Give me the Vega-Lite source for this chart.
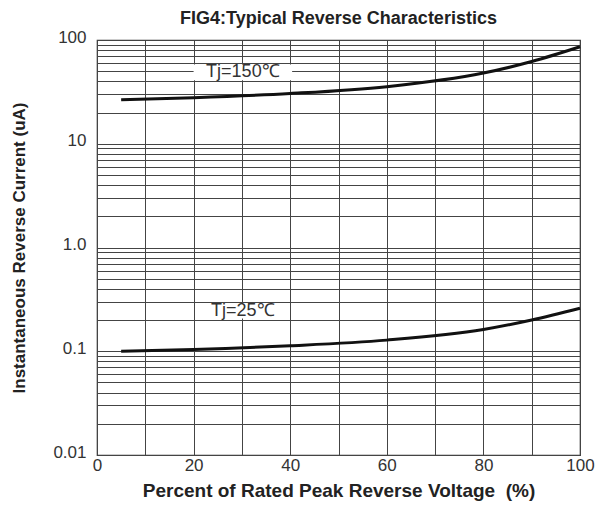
{
  "$schema": "https://vega.github.io/schema/vega-lite/v6.json",
  "width": 483,
  "height": 415,
  "autosize": "none",
  "padding": {"left": 97, "top": 40, "right": 30, "bottom": 53},
  "background": "white",
  "title": {"text": "FIG4:Typical Reverse Characteristics", "font": "Liberation Sans", "fontSize": 18, "fontWeight": "bold", "color": "#222", "offset": 0, "anchor": "middle"},
  "config": {"view": {"stroke": "#333", "strokeWidth": 1.2}},
  "datasets": {
    "curves": [
      {"v": 5, "i": 26.5, "s": "150"},
      {"v": 20, "i": 27.8, "s": "150"},
      {"v": 40, "i": 30.5, "s": "150"},
      {"v": 60, "i": 35.5, "s": "150"},
      {"v": 80, "i": 48, "s": "150"},
      {"v": 90, "i": 62, "s": "150"},
      {"v": 100, "i": 86, "s": "150"},
      {"v": 5, "i": 0.1, "s": "25"},
      {"v": 20, "i": 0.104, "s": "25"},
      {"v": 40, "i": 0.113, "s": "25"},
      {"v": 60, "i": 0.128, "s": "25"},
      {"v": 80, "i": 0.162, "s": "25"},
      {"v": 90, "i": 0.2, "s": "25"},
      {"v": 100, "i": 0.26, "s": "25"}
    ],
    "labels": [
      {"x": 30.2, "y": 49, "x1": 20.0, "x2": 40.4, "y1": 41, "y2": 58, "t": "Tj=150℃"},
      {"x": 30.2, "y": 0.243, "x1": 21.0, "x2": 39.4, "y1": 0.207, "y2": 0.285, "t": "Tj=25℃"}
    ]
  },
  "layer": [
    {
      "data": {"name": "labels"},
      "mark": {"type": "rect", "fill": "white", "stroke": null},
      "encoding": {
        "x": {"field": "x1", "type": "quantitative", "scale": {"domain": [0, 100]},
          "axis": {"values": [0,10,20,30,40,50,60,70,80,90,100], "labelExpr": "datum.value % 20 == 0 ? datum.label : ''", "grid": true, "gridColor": "#444", "gridOpacity": 1, "gridWidth": 1, "ticks": false, "domain": false, "labelFont": "Liberation Sans", "labelFontSize": 17, "labelColor": "#333", "labelPadding": 2, "title": "Percent of Rated Peak Reverse Voltage\u00a0\u00a0(%)", "titleFont": "Liberation Sans", "titleFontSize": 19, "titleFontWeight": "bold", "titleColor": "#222", "titlePadding": 8, "labelOverlap": false, "labelFlush": false}},
        "x2": {"field": "x2"},
        "y": {"field": "y1", "type": "quantitative", "scale": {"type": "log", "domain": [0.01, 100]},
          "axis": {"values": [0.01,0.02,0.03,0.04,0.05,0.06,0.07,0.08,0.09,0.1,0.2,0.3,0.4,0.5,0.6,0.7,0.8,0.9,1,2,3,4,5,6,7,8,9,10,20,30,40,50,60,70,80,90,100],
            "labelExpr": "datum.value == 100 ? '100' : datum.value == 10 ? '10' : datum.value == 1 ? '1.0' : abs(datum.value - 0.1) < 1e-9 ? '0.1' : abs(datum.value - 0.01) < 1e-9 ? '0.01' : ''",
            "grid": true, "gridColor": "#444", "gridOpacity": 1, "gridWidth": 1, "ticks": false, "domain": false, "labelFont": "Liberation Sans", "labelFontSize": 17, "labelColor": "#333", "labelPadding": 11, "labelOffset": -3, "labelOverlap": false, "labelFlush": false, "title": "Instantaneous Reverse Current (uA)", "titleFont": "Liberation Sans", "titleFontSize": 17, "titleFontWeight": "bold", "titleColor": "#222", "titlePadding": 24}},
        "y2": {"field": "y2"}
      }
    },
    {
      "data": {"name": "labels"},
      "mark": {"type": "text", "font": "Liberation Sans", "fontSize": 18, "color": "#333", "align": "center", "baseline": "middle"},
      "encoding": {
        "x": {"field": "x", "type": "quantitative"},
        "y": {"field": "y", "type": "quantitative"},
        "text": {"field": "t"}
      }
    },
    {
      "data": {"name": "curves"},
      "mark": {"type": "line", "color": "#111", "strokeWidth": 3, "interpolate": "monotone"},
      "encoding": {
        "x": {"field": "v", "type": "quantitative"},
        "y": {"field": "i", "type": "quantitative"},
        "detail": {"field": "s"}
      }
    }
  ]
}
